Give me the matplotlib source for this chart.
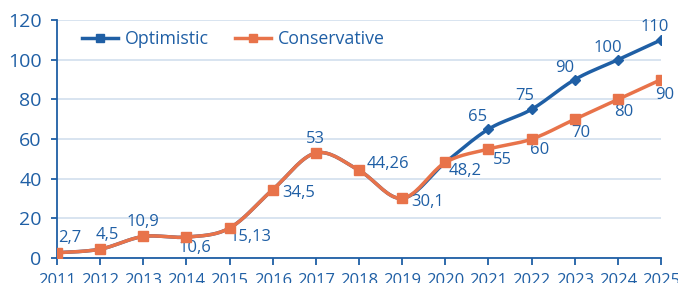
import numpy as np
import matplotlib.pyplot as plt

plt.rcParams['font.family'] = ['Open Sans', 'DejaVu Sans']

years = list(range(2011, 2026))
conservative = [2.7, 4.5, 10.9, 10.6, 15.13, 34.5, 53, 44.26, 30.1, 48.2, 55, 60, 70, 80, 90]
optimistic = [2.7, 4.5, 10.9, 10.6, 15.13, 34.5, 53, 44.26, 30.1, 48.2, 65, 75, 90, 100, 110]
cons_labels = ['2,7', '4,5', '10,9', '10,6', '15,13', '34,5', '53', '44,26', '30,1', '48,2',
               '55', '60', '70', '80', '90']
opt_labels = ['65', '75', '90', '100', '110']

BLUE = '#1f5fa5'
ORANGE = '#e8734a'
GRID = '#d5e2ef'


def smooth(x, y, n=20):
    # catmull-rom curve through the points (like excel's smoothed line)
    x = np.asarray(x, float)
    y = np.asarray(y, float)
    px = np.concatenate([[x[0]], x, [x[-1]]])
    py = np.concatenate([[y[0]], y, [y[-1]]])
    xs, ys = [], []
    t = np.linspace(0, 1, n, endpoint=False)
    for i in range(1, len(px) - 2):
        for p, out in ((px, xs), (py, ys)):
            p0, p1, p2, p3 = p[i - 1], p[i], p[i + 1], p[i + 2]
            out.extend(0.5 * ((2 * p1) + (-p0 + p2) * t + (2 * p0 - 5 * p1 + 4 * p2 - p3) * t ** 2
                              + (-p0 + 3 * p1 - 3 * p2 + p3) * t ** 3))
    xs.append(x[-1])
    ys.append(y[-1])
    return xs, ys


fig = plt.figure(figsize=(6.78, 2.83), dpi=100)
ax = fig.add_axes([0.084, 0.088, 0.891, 0.841])

sx, sy = smooth(years, optimistic)
ax.plot(sx, sy, color=BLUE, lw=2.5, zorder=3)
ax.plot(years, optimistic, ls='none', marker='D', ms=5.5, color=BLUE, zorder=3)
ax.plot([], [], color=BLUE, lw=2.5, marker='s', ms=5.5, label='Optimistic')

sx, sy = smooth(years, conservative)
ax.plot(sx, sy, color=ORANGE, lw=2.5, zorder=4)
ax.plot(years, conservative, ls='none', marker='s', ms=6.5, color=ORANGE, zorder=4)
ax.plot([], [], color=ORANGE, lw=2.5, marker='s', ms=5.5, label='Conservative')

# label offsets in pixels
cons_off = [(13, 15), (7, 14), (0, 14), (9, -11), (21, -9), (26, -3), (0, 14), (29, 6),
            (25, -4), (20, -9), (14, -11), (8, -11), (6, -14), (6, -13), (4, -15)]
for x, y, s, (dx, dy) in zip(years, conservative, cons_labels, cons_off):
    ax.annotate(s, (x, y), xytext=(dx, dy), textcoords='offset pixels',
                ha='center', va='center', color=BLUE, fontsize=12)

opt_off = [(-11, 12), (-7, 13), (-10, 12), (-10, 12), (-6, 13)]
for x, y, s, (dx, dy) in zip(years[10:], optimistic[10:], opt_labels, opt_off):
    ax.annotate(s, (x, y), xytext=(dx, dy), textcoords='offset pixels',
                ha='center', va='center', color=BLUE, fontsize=12)

ax.set_xlim(2011, 2025)
ax.set_ylim(0, 120)
ax.set_xticks(years)
ax.set_yticks(range(0, 121, 20))
ax.grid(axis='y', color=GRID, lw=1.3)
ax.set_axisbelow(True)
for side in ('top', 'right'):
    ax.spines[side].set_visible(False)
for side in ('left', 'bottom'):
    ax.spines[side].set_color(BLUE)
    ax.spines[side].set_linewidth(1.3)
ax.tick_params(axis='y', colors=BLUE, labelsize=14, length=4, width=1.3, pad=7)
ax.tick_params(axis='x', colors=BLUE, labelsize=12, length=5, width=1.3, pad=6)

ax.legend(loc='upper left', bbox_to_anchor=(0.015, 1.025), ncol=2, frameon=False,
          fontsize=12.8, labelcolor=BLUE, handlelength=2.0, columnspacing=1.5,
          handletextpad=0.4)

fig.savefig('out.png', dpi=100)
